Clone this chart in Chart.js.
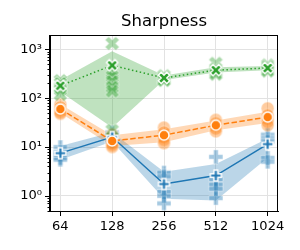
<!DOCTYPE html>
<html>
<head>
<meta charset="utf-8">
<script src="https://cdn.jsdelivr.net/npm/chart.js@4"></script>
<style>
  html, body { margin: 0; padding: 0; background: #fff; }
  #wrap { width: 300px; height: 250px; }
</style>
</head>
<body>
<div id="wrap"><canvas id="chart" width="300" height="250"></canvas></div>
<script>
// ── Data ───────────────────────────────────────────────
const xLabels = ["64", "128", "256", "512", "1024"];
const yMajor = [1, 10, 100, 1000];
const yTickLabels = ["10\u2070", "10\u00b9", "10\u00b2", "10\u00b3"];

const blueMean = [7.5, 16, 1.75, 2.6, 11.5];
const blueLow = [5.5, 13, 0.87, 0.8, 6];
const blueHigh = [10.5, 20, 3.1, 4.5, 15];
const blueSeeds = [
  [10, 8, 7, 6, 5.5],
  [20, 18, 16, 14, 13],
  [3.0, 2.5, 1.2, 1.0, 0.7],
  [6.3, 2.2, 1.7, 1.4, 0.9],
  [18, 15, 13, 6, 5],
];

const orangeMean = [60, 13.3, 17.5, 28, 41];
const orangeLow = [50, 10.5, 12.5, 22, 31];
const orangeHigh = [75, 17.5, 23, 35, 53];
const orangeSeeds = [
  [75, 65, 58, 52, 48],
  [18, 14, 12, 11, 10],
  [25, 20, 16, 14, 12],
  [36, 31, 27, 24, 21],
  [62, 45, 38, 33, 28],
];

const greenMean = [180, 470, 260, 375, 415];
const greenLow = [135, 25, 235, 335, 375];
const greenHigh = [235, 910, 290, 430, 455];
const greenSeeds = [
  [230, 200, 170, 150, 120],
  [1320, 340, 280, 220, 170, 140, 22],
  [290, 270, 255, 240, 230],
  [520, 400, 360, 330, 310],
  [480, 440, 410, 380, 360],
];

// ── Markers ────────────────────────────────────────────
function makeMarker(shape, size, fill, alpha, edge) {
  const pad = 2;
  const c = document.createElement("canvas");
  c.width = c.height = Math.ceil(size + pad * 2);
  const g = c.getContext("2d");
  const m = c.width / 2;
  g.globalAlpha = alpha;
  g.translate(m, m);
  g.beginPath();
  if (shape === "circle") {
    g.arc(0, 0, size / 2, 0, Math.PI * 2);
  } else {
    if (shape === "x") g.rotate(Math.PI / 4);
    const h = size / 2, t = size / 6;
    g.moveTo(-t, -h); g.lineTo(t, -h); g.lineTo(t, -t); g.lineTo(h, -t);
    g.lineTo(h, t); g.lineTo(t, t); g.lineTo(t, h); g.lineTo(-t, h);
    g.lineTo(-t, t); g.lineTo(-h, t); g.lineTo(-h, -t); g.lineTo(-t, -t);
    g.closePath();
  }
  g.fillStyle = fill;
  g.fill();
  g.strokeStyle = "#fff";
  g.lineWidth = edge;
  g.stroke();
  return c;
}

const series = [
  { color: "#1f77b4", rgb: "31,119,180", mean: blueMean, low: blueLow, high: blueHigh,
    seeds: blueSeeds, shape: "plus", size: 11, dash: [] },
  { color: "#ff7f0e", rgb: "255,127,14", mean: orangeMean, low: orangeLow, high: orangeHigh,
    seeds: orangeSeeds, shape: "circle", size: 10, dash: [5.5, 2.4] },
  { color: "#2ca02c", rgb: "44,160,44", mean: greenMean, low: greenLow, high: greenHigh,
    seeds: greenSeeds, shape: "x", size: 12, dash: [1.5, 2.5] },
];

const pts = (arr) => arr.map((v, i) => ({ x: i, y: v }));

const datasets = [];
series.forEach((s, k) => {
  datasets.push({
    data: pts(s.high), fill: "+1", backgroundColor: `rgba(${s.rgb},0.3)`,
    borderColor: "rgba(0,0,0,0)", borderWidth: 0, pointRadius: 0, order: 30 - k,
  });
  datasets.push({
    data: pts(s.low), fill: false, borderColor: "rgba(0,0,0,0)",
    borderWidth: 0, pointRadius: 0, order: 30 - k,
  });
});
series.forEach((s, k) => {
  const seedPts = [];
  s.seeds.forEach((vals, i) => vals.forEach((v) => seedPts.push({ x: i, y: v })));
  datasets.push({
    data: seedPts, showLine: false, pointRadius: 5,
    pointStyle: makeMarker(s.shape, s.size + 3, s.color, 0.4, 1), order: 20 - k,
  });
});
series.forEach((s, k) => {
  datasets.push({
    data: pts(s.mean), borderColor: s.color, borderWidth: 1.5, borderDash: s.dash,
    fill: false, pointRadius: 5, pointStyle: makeMarker(s.shape, s.size, s.color, 1, 1.5),
    order: 10 - k,
  });
});

// y tick list: powers of ten plus minor multiples
const yMin = 0.49, yMax = 1940;
const yTickValues = [];
[0.1, 1, 10, 100, 1000].forEach((d) => {
  for (let m = 1; m <= 9; m++) {
    const v = m === 1 ? d : +(m * d).toPrecision(3);
    if (v >= yMin && v <= yMax) yTickValues.push(v);
  }
});

// ── Frame + y tick marks ───────────────────────────────
const framePlugin = {
  id: "frame",
  afterDraw(chart) {
    const ctx = chart.ctx, a = chart.chartArea, y = chart.scales.y;
    ctx.save();
    ctx.strokeStyle = "#000";
    ctx.lineWidth = 1;
    y.ticks.forEach((t) => {
      const py = Math.round(y.getPixelForValue(t.value)) + 0.5;
      const len = yMajor.includes(t.value) ? 5 : 2.5;
      ctx.beginPath();
      ctx.moveTo(a.left - len, py);
      ctx.lineTo(a.left, py);
      ctx.stroke();
    });
    ctx.strokeRect(Math.round(a.left) - 0.5, Math.round(a.top) + 0.5,
      Math.round(a.right - a.left), Math.round(a.bottom - a.top));
    ctx.restore();
  },
};

Chart.defaults.font.family = "'DejaVu Sans', sans-serif";
Chart.defaults.color = "#000";

new Chart(document.getElementById("chart"), {
  type: "line",
  data: { datasets: datasets },
  options: {
    responsive: false,
    animation: false,
    devicePixelRatio: 1,
    layout: { padding: { left: 0, right: 22, top: 0, bottom: 0 } },
    plugins: {
      legend: { display: false },
      tooltip: { enabled: false },
      title: {
        display: true, text: "Sharpness", fullSize: false,
        font: { size: 16.5, weight: "normal" }, color: "#000",
        padding: { top: 12, bottom: 3.5 },
      },
    },
    scales: {
      x: {
        type: "linear", min: -0.2, max: 4.2,
        afterBuildTicks: (s) => { s.ticks = xLabels.map((_, i) => ({ value: i })); },
        afterFit: (s) => { s.height = 39; },
        ticks: { callback: (v) => xLabels[v], font: { size: 13 }, padding: 3,
          autoSkip: false, maxRotation: 0 },
        grid: { color: "#e2e2e2", tickColor: "#000", tickLength: 5 },
        border: { display: true, color: "#000" },
      },
      y: {
        type: "logarithmic", min: yMin, max: yMax,
        afterBuildTicks: (s) => { s.ticks = yTickValues.map((v) => ({ value: v })); },
        afterFit: (s) => { s.width = 50; },
        ticks: {
          autoSkip: false, font: { size: 13 }, padding: 8,
          callback: (v) => { const i = yMajor.indexOf(v); return i >= 0 ? yTickLabels[i] : ""; },
        },
        grid: {
          drawTicks: false,
          color: (c) => (c.tick && yMajor.includes(c.tick.value) ? "#e2e2e2" : "rgba(0,0,0,0)"),
        },
        border: { display: true, color: "#000" },
      },
    },
  },
  plugins: [framePlugin],
});
</script>
</body>
</html>
